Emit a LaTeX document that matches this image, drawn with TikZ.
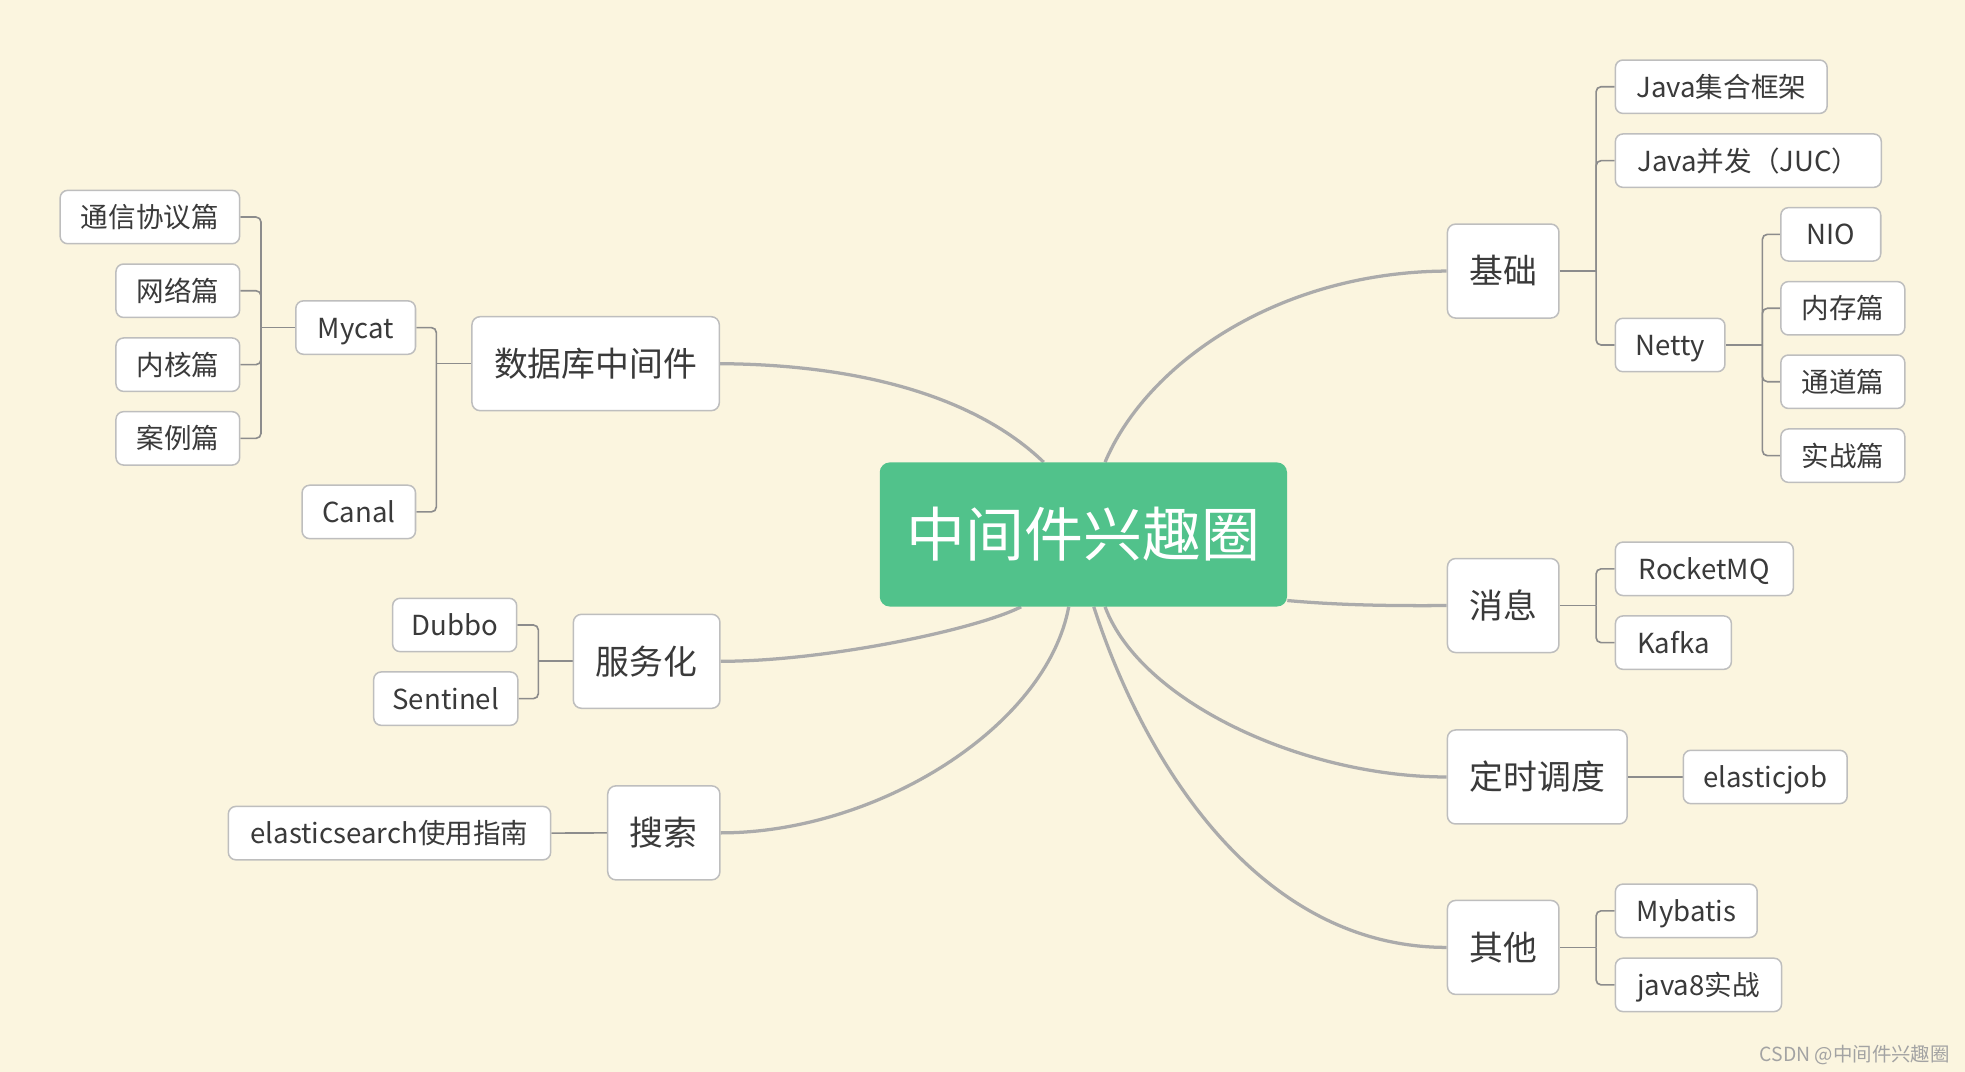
\documentclass[tikz,border=0pt]{standalone}
\usepackage{fontspec}
\setmainfont{Noto Sans CJK SC}
\usetikzlibrary{calc}
\definecolor{bgc}{HTML}{FBF5DF}
\definecolor{rootc}{HTML}{51C28B}
\definecolor{txt}{HTML}{3A3A3A}
\definecolor{bord}{HTML}{BEBEBE}
\definecolor{curvec}{HTML}{ABABAB}
\definecolor{elbowc}{HTML}{8C8C8C}
\definecolor{wmc}{HTML}{A3A3A3}
\pgfdeclarelayer{back}
\pgfsetlayers{back,main}
\tikzset{
  rootbox/.style={fill=rootc, rounded corners=8pt, minimum width=325pt, minimum height=115pt,
    inner sep=0pt, text=white, font=\fontsize{47pt}{51pt}\selectfont, text height=40.4pt, text depth=4.7pt},
  topicbox/.style={fill=white, draw=bord, line width=1.2pt, rounded corners=6.5pt, minimum height=75pt,
    inner sep=0pt, text=txt, font=\fontsize{27pt}{30pt}\selectfont, text height=23.2pt, text depth=2.7pt},
  subbox/.style={fill=white, draw=bord, line width=1.2pt, rounded corners=6pt, minimum height=42.6pt,
    inner sep=0pt, text=txt, font=\fontsize{22pt}{25pt}\selectfont, text height=18.9pt, text depth=2.2pt},
  mainline/.style={draw=curvec, line width=2.6pt},
  elbow/.style={draw=elbowc, line width=1.3pt, rounded corners=4pt},
}
\begin{document}
\begin{tikzpicture}[x=1pt,y=-1pt]
\useasboundingbox (0,0) rectangle (1568,855.4);
% root
\node[rootbox] (root) at (864.5,426.5) {中间件兴趣圈};
% level 1
\node[topicbox, minimum width=89pt]    (jichu)   at (1199.5,216.3) {基础};
\node[topicbox, minimum width=89pt]    (xiaoxi)  at (1199.5,483.2) {消息};
\node[topicbox, minimum width=143.5pt] (dingshi) at (1226.7,620)   {定时调度};
\node[topicbox, minimum width=89pt]    (qita)    at (1199.5,756)   {其他};
\node[topicbox, minimum width=197.4pt] (db)      at (475.3,290.2)  {数据库中间件};
\node[topicbox, minimum width=117pt]   (fwh)     at (516,527.7)    {服务化};
\node[topicbox, minimum width=89.5pt]  (ss)      at (529.7,664.6)  {搜索};
% level 2 right
\node[subbox, minimum width=169pt]   (java1)  at (1373.5,69.2)  {Java集合框架};
\node[subbox, minimum width=212.2pt] (java2)  at (1395.1,128.2) {Java并发（JUC）};
\node[subbox, minimum width=87.5pt]  (netty)  at (1332.7,275.3) {Netty};
\node[subbox, minimum width=79.7pt]  (nio)    at (1460.9,187)   {NIO};
\node[subbox, minimum width=98.9pt]  (nc)     at (1470.5,246)   {内存篇};
\node[subbox, minimum width=98.9pt]  (td)     at (1470.5,304.6) {通道篇};
\node[subbox, minimum width=98.9pt]  (sz)     at (1470.5,363.6) {实战篇};
\node[subbox, minimum width=142pt]   (rmq)    at (1360,453.9)   {RocketMQ};
\node[subbox, minimum width=92.5pt]  (kafka)  at (1335.3,512.8) {Kafka};
\node[subbox, minimum width=130.8pt] (ejob)   at (1408.6,620)   {elasticjob};
\node[subbox, minimum width=113.2pt] (mybatis) at (1345.6,726.8) {Mybatis};
\node[subbox, minimum width=132.6pt] (j8)     at (1355.3,785.9) {java8实战};
% level 2 left
\node[subbox, minimum width=143.2pt] (txxy)  at (119.6,173.2) {通信协议篇};
\node[subbox, minimum width=98.7pt]  (wl)    at (141.9,232)   {网络篇};
\node[subbox, minimum width=98.7pt]  (nh)    at (141.9,291)   {内核篇};
\node[subbox, minimum width=98.7pt]  (al)    at (141.9,349.8) {案例篇};
\node[subbox, minimum width=95.5pt]  (mycat) at (283.8,261.4) {Mycat};
\node[subbox, minimum width=90.5pt]  (canal) at (286.3,408.5) {Canal};
\node[subbox, minimum width=99pt]    (dubbo) at (362.8,498.7) {Dubbo};
\node[subbox, minimum width=115pt]   (sent)  at (355.7,557.5) {Sentinel};
\node[subbox, minimum width=257.2pt] (es)    at (310.8,664.8) {elasticsearch使用指南};
% watermark
\node[font=\fontsize{15.5pt}{17pt}\selectfont, text=wmc, inner sep=0pt] (wmk) at (1480,842) {CSDN @中间件兴趣圈};
% trunk coordinates
\coordinate (tr1) at (1273.6,0);
\coordinate (tr2) at (1406.3,0);
\coordinate (tl1) at (348.2,0);
\coordinate (tl2) at (208.3,0);
\coordinate (tl3) at (429.6,0);
\begin{pgfonlayer}{back}
\fill[bgc] (0,0) rectangle (1568,855.4);
% main curves
\draw[mainline] ([xshift=180pt]root.north west) .. controls (915,290) and (1020,217) .. (jichu.west);
\draw[mainline] ([yshift=5pt]root.south east) .. controls (1070,483) and (1110,483.5) .. (xiaoxi.west);
\draw[mainline] ([xshift=180pt]root.south west) .. controls (910,560) and (1040,620) .. (dingshi.west);
\draw[mainline] ([xshift=171pt]root.south west) .. controls (910,600) and (1000,756) .. (qita.west);
\draw[mainline] ([xshift=131pt]root.north west) .. controls (780,318) and (690,291) .. (db.east);
\draw[mainline] ([xshift=113pt]root.south west) .. controls (780,502) and (660,527.7) .. (fwh.east);
\draw[mainline] ([xshift=151pt]root.south west) .. controls (835,580) and (700,664.6) .. (ss.east);
% elbows right
\draw[elbow] (jichu.east) -- (tr1 |- jichu.east);
\foreach \c in {java1,java2,netty} \draw[elbow] (tr1 |- jichu.east) |- (\c.west);
\draw[elbow] (netty.east) -- (tr2 |- netty.east);
\foreach \c in {nio,nc,td,sz} \draw[elbow] (tr2 |- netty.east) |- (\c.west);
\draw[elbow] (xiaoxi.east) -- (tr1 |- xiaoxi.east);
\foreach \c in {rmq,kafka} \draw[elbow] (tr1 |- xiaoxi.east) |- (\c.west);
\draw[elbow] (dingshi.east) -- (ejob.west);
\draw[elbow] (qita.east) -- (tr1 |- qita.east);
\foreach \c in {mybatis,j8} \draw[elbow] (tr1 |- qita.east) |- (\c.west);
% elbows left
\draw[elbow] (db.west) -- (tl1 |- db.west);
\foreach \c in {mycat,canal} \draw[elbow] (tl1 |- db.west) |- (\c.east);
\draw[elbow] (mycat.west) -- (tl2 |- mycat.west);
\foreach \c in {txxy,wl,nh,al} \draw[elbow] (tl2 |- mycat.west) |- (\c.east);
\draw[elbow] (fwh.west) -- (tl3 |- fwh.west);
\foreach \c in {dubbo,sent} \draw[elbow] (tl3 |- fwh.west) |- (\c.east);
\draw[elbow] (ss.west) -- (es.east);
\end{pgfonlayer}
\end{tikzpicture}
\end{document}
